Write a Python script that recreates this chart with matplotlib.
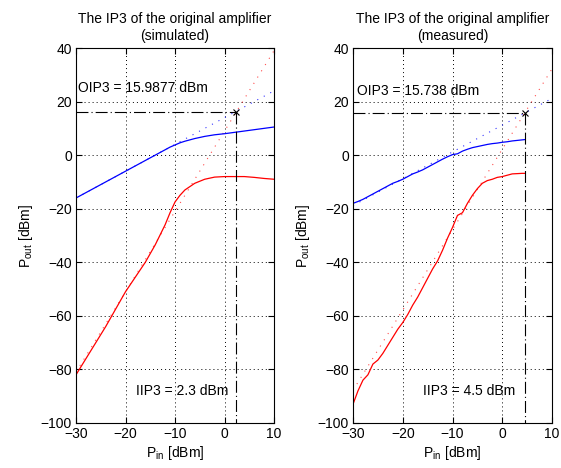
import matplotlib
matplotlib.use("Agg")
import matplotlib.pyplot as plt

plt.rcParams['font.family'] = ['Liberation Sans', 'DejaVu Sans']
plt.rcParams['mathtext.fontset'] = 'custom'
plt.rcParams['mathtext.rm'] = 'Liberation Sans'
plt.rcParams['mathtext.it'] = 'Liberation Sans'
plt.rcParams['font.size'] = 10
plt.rcParams['lines.scale_dashes'] = False

# ---------------- simulated ----------------
sim_pin = [-30, -28, -26, -24, -22, -20, -18, -16, -14, -12, -11, -10, -9, -8,
           -6, -4, -2, 0, 2, 4, 6, 8, 10]
sim_fund = [-16, -14, -12, -10, -8, -6, -4, -2, 0, 2, 3, 3.8, 4.6, 5.2,
            6.2, 7.0, 7.6, 8.0, 8.5, 9.0, 9.5, 10.0, 10.5]
sim_im3 = [-82, -76, -70, -64, -57.5, -51, -45.5, -40, -33.5, -26, -21.5, -17.5, -15, -13,
           -10.5, -9, -8.2, -8, -8, -8, -8.3, -8.7, -9]
sim_ext_x = [-30, 10]
sim_fund_ext = [-16, 24]
sim_im3_ext = [-81, 39]
sim_iip3 = 2.3
sim_oip3 = 15.9877

# ---------------- measured ----------------
meas_pin = [-30, -29, -28, -27, -26, -25, -24, -23, -22, -21, -20, -19, -18, -17,
            -16, -15, -14, -13, -12, -11, -10, -9, -8, -7, -6, -5, -4, -3, -2, -1,
            0, 1, 2, 3, 4, 4.5]
meas_fund = [-18, -17.3, -16.5, -15.5, -14.5, -13.5, -12.5, -11.5, -10.5, -9.8, -9, -8, -7, -6.3,
             -5.5, -4.5, -3.5, -2.5, -1.5, -0.6, 0.2, 0.5, 1.5, 2.2, 2.8, 3.2, 3.6, 4.0, 4.3, 4.5,
             4.8, 5.0, 5.3, 5.5, 5.7, 5.8]
meas_im3 = [-93, -88, -84, -82, -78, -76.5, -74, -71, -68, -65, -62.5, -59.5, -56, -53,
            -49.5, -46, -42.5, -39.5, -35.5, -31, -27, -22.5, -21.5, -18, -15, -12.5, -10.5, -9.5, -9, -8.3,
            -8, -7.5, -7, -6.9, -6.8, -6.8]
meas_ext_x = [-30, 10]
meas_fund_ext = [-18.8, 21.2]
meas_im3_ext = [-87.8, 32.2]
meas_iip3 = 4.5
meas_oip3 = 15.738

titles = ["The IP3 of the original amplifier\n(simulated)",
          "The IP3 of the original amplifier\n(measured)"]
oip3_labels = ["OIP3 = 15.9877 dBm", "OIP3 = 15.738 dBm"]
iip3_labels = ["IIP3 = 2.3 dBm", "IIP3 = 4.5 dBm"]
xticks = [-30, -20, -10, 0, 10]
yticks = [-100, -80, -60, -40, -20, 0, 20, 40]

fig = plt.figure(figsize=(5.61, 4.68), dpi=100)
ax1 = fig.add_axes([76/561, 1-423/468, 198/561, 375/468])
ax2 = fig.add_axes([353/561, 1-423/468, 199/561, 375/468])

datasets = [
    (ax1, sim_pin, sim_fund, sim_im3, sim_ext_x, sim_fund_ext, sim_im3_ext, sim_iip3, sim_oip3,
     (-29.5, 25), (-17.9, -88)),
    (ax2, meas_pin, meas_fund, meas_im3, meas_ext_x, meas_fund_ext, meas_im3_ext, meas_iip3, meas_oip3,
     (-29.2, 24), (-15.9, -88)),
]

dashdot = (0, (8.6, 2.2, 0.8, 2.2))
for i, (ax, pin, fund, im3, ex, fe, ie, iip3, oip3, otxt, itxt) in enumerate(datasets):
    ax.plot(ex, fe, color='blue', linestyle=(0, (0.8, 4.5)), linewidth=0.8, alpha=0.8)
    ax.plot(ex, ie, color='red', linestyle=(0, (0.8, 4.5)), linewidth=0.8, alpha=0.7)
    ax.plot(pin, fund, color='blue', linewidth=0.9)
    ax.plot(pin, im3, color='red', linewidth=0.9)
    ax.plot([-30, iip3], [oip3, oip3], color='black', linestyle=dashdot, linewidth=0.8)
    ax.plot([iip3, iip3], [oip3, -100], color='black', linestyle=dashdot, linewidth=0.8)
    ax.plot([iip3], [oip3], marker='x', color='black', markersize=5, markeredgewidth=0.8)
    ax.text(otxt[0], otxt[1], oip3_labels[i], ha='left', va='center', fontsize=10)
    ax.text(itxt[0], itxt[1], iip3_labels[i], ha='left', va='center', fontsize=10)
    ax.set_xlim(-30, 10)
    ax.set_ylim(-100, 40)
    ax.set_xticks(xticks)
    ax.set_yticks(yticks)
    ax.grid(True, color='black', linestyle=(0, (0.7, 2.2)), linewidth=0.7)
    ax.tick_params(direction='in', top=True, right=True, length=4, labelsize=10, pad=3)
    ax.set_title(titles[i], fontsize=10, pad=6)
    ax.set_xlabel(r"P$_{\rm in}$ [dBm]", fontsize=10, labelpad=2)
    ax.set_ylabel(r"P$_{\rm out}$ [dBm]", fontsize=10, labelpad=4)
    for s in ax.spines.values():
        s.set_linewidth(0.8)

fig.savefig("out.png", dpi=100)
